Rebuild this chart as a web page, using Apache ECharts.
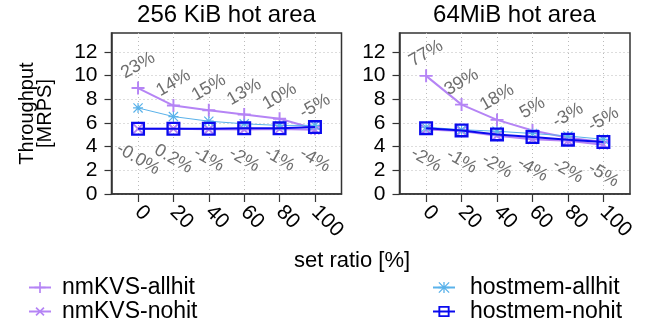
<!DOCTYPE html>
<html>
<head>
<meta charset="utf-8">
<script src="https://cdn.jsdelivr.net/npm/echarts@6/dist/echarts.min.js"></script>
<style>html,body{margin:0;padding:0;background:#fff}#c{width:646px;height:325px}</style>
</head>
<body>
<div id="c"></div>
<script>
// ---- data ----
const setRatio = [0, 20, 40, 60, 80, 100];
const xTicks = [0, 20, 40, 60, 80, 100];
const yTicks = [0, 2, 4, 6, 8, 10, 12];
const panelTitles = ['256 KiB hot area', '64MiB hot area'];
const seriesNames = ['nmKVS-allhit', 'nmKVS-nohit', 'hostmem-allhit', 'hostmem-nohit'];

// 256 KiB hot area
const nmAllL = [8.95, 7.47, 7.07, 6.71, 6.35, 5.51];
const nmNoL  = [5.51, 5.52, 5.46, 5.44, 5.49, 5.42];
const hmAllL = [7.27, 6.54, 6.15, 5.93, 5.79, 5.80];
const hmNoL  = [5.51, 5.51, 5.51, 5.55, 5.55, 5.65];
const upLabL = ['23%', '14%', '15%', '13%', '10%', '-5%'];
const loLabL = ['-0.0%', '0.2%', '-1%', '-2%', '-1%', '-4%'];

// 64MiB hot area
const nmAllR = [9.98, 7.55, 6.26, 5.37, 4.75, 4.39];
const nmNoR  = [5.45, 5.32, 4.93, 4.62, 4.50, 4.17];
const hmAllR = [5.64, 5.43, 5.30, 5.11, 4.90, 4.62];
const hmNoR  = [5.56, 5.37, 5.03, 4.81, 4.59, 4.39];
const upLabR = ['77%', '39%', '18%', '5%', '-3%', '-5%'];
const loLabR = ['-2%', '-1%', '-2%', '-4%', '-2%', '-5%'];

// ---- style ----
const FONT = 'Liberation Sans';
const cNm = '#b584f5';
const cHa = '#5ab2ea';
const cHn = '#0a0aee';
const PLUS = 'path://M0,5.1h12v1.8h-12zM5.1,0h1.8v12h-1.8z';
const ASTER = 'path://M0,5.3h12v1.4h-12zM5.3,0h1.4v12h-1.4zM1,0L12,11L11,12L0,1zM11,0L12,1L1,12L0,11z';
const SQUARE = 'path://M0,0h12v12h-12zM2,2v8h8v-8z';

const grids = [
  {left: 111.5, top: 33, width: 230, height: 161},
  {left: 399.5, top: 33, width: 230.5, height: 161}
];

function xAxis(i) {
  return {
    type: 'value', gridIndex: i, min: -15, max: 115,
    axisLine: {show: true, onZero: false, lineStyle: {color: '#333', width: 1.5}},
    axisTick: {show: true, inside: false, length: 8, customValues: xTicks, lineStyle: {color: '#333', width: 1.2}},
    axisLabel: {customValues: xTicks, rotate: -45, margin: 15, padding: [14, 0, 0, 0], fontFamily: FONT, fontSize: 21, color: '#000'},
    splitLine: {show: true, lineStyle: {type: [1, 3], color: '#bbb', width: 1}}
  };
}
function yAxis(i) {
  const a = {
    type: 'value', gridIndex: i, min: 0, max: 13.6,
    axisLine: {show: true, onZero: false, lineStyle: {color: '#333', width: 1.5}},
    axisTick: {show: true, inside: false, length: 7, customValues: yTicks, lineStyle: {color: '#333', width: 1.2}},
    axisLabel: {customValues: yTicks, margin: 14, fontFamily: FONT, fontSize: 21, color: '#000'},
    splitLine: {show: true, lineStyle: {type: [1, 3], color: '#bbb', width: 1}}
  };
  if (i === 0) {
    a.name = 'Throughput\n[MRPS]';
    a.nameLocation = 'middle';
    a.nameRotate = 90;
    a.nameGap = 57;
    a.nameTextStyle = {fontFamily: FONT, fontSize: 20, lineHeight: 18, color: '#000'};
  }
  return a;
}

function pts(arr) { return setRatio.map((x, k) => [x, arr[k]]); }

const labelStyle = {fontFamily: FONT, fontSize: 18, color: '#6e6e6e'};

function panelSeries(i, nmAll, nmNo, hmAll, hmNo, upLab, loLab) {
  return [
    {
      name: seriesNames[0], type: 'line', xAxisIndex: i, yAxisIndex: i, data: pts(nmAll),
      symbol: PLUS, symbolSize: 13,
      lineStyle: {color: cNm, width: 2}, itemStyle: {color: cNm},
      label: Object.assign({show: true, position: 'top', distance: 16, rotate: 30, align: 'center', verticalAlign: 'middle',
        formatter: p => upLab[p.dataIndex]}, labelStyle),
      z: 2
    },
    {
      name: seriesNames[1], type: 'line', xAxisIndex: i, yAxisIndex: i, data: pts(nmNo),
      symbol: PLUS, symbolRotate: 45, symbolSize: 13,
      lineStyle: {color: cNm, width: 2}, itemStyle: {color: cNm},
      label: Object.assign({show: true, position: 'bottom', distance: 21, rotate: -30, align: 'center', verticalAlign: 'middle',
        formatter: p => loLab[p.dataIndex]}, labelStyle),
      z: 3
    },
    {
      name: seriesNames[2], type: 'line', xAxisIndex: i, yAxisIndex: i, data: pts(hmAll),
      symbol: ASTER, symbolSize: 10,
      lineStyle: {color: cHa, width: 1}, itemStyle: {color: cHa},
      z: 4
    },
    {
      name: seriesNames[3], type: 'line', xAxisIndex: i, yAxisIndex: i, data: pts(hmNo),
      symbol: SQUARE, symbolSize: 14,
      lineStyle: {color: cHn, width: 2}, itemStyle: {color: cHn},
      z: 5
    }
  ];
}

const chart = echarts.init(document.getElementById('c'), null, {renderer: 'canvas'});
chart.setOption({
  animation: false,
  backgroundColor: '#fff',
  grid: grids.map(g => Object.assign({show: true, borderColor: '#333', borderWidth: 1.5, containLabel: false}, g)),
  xAxis: [xAxis(0), xAxis(1)],
  yAxis: [yAxis(0), yAxis(1)],
  legend: [
    {data: [seriesNames[0], seriesNames[1]], orient: 'vertical', left: 28, top: 276, height: 80, padding: 0, itemWidth: 22, itemHeight: 14, itemGap: 1,
     textStyle: {fontFamily: FONT, fontSize: 23, lineHeight: 20, color: '#000', padding: [0, 0, 0, 6]}},
    {data: [seriesNames[2], seriesNames[3]], orient: 'vertical', left: 432, top: 276, height: 80, padding: 0, itemWidth: 22, itemHeight: 14, itemGap: 1,
     textStyle: {fontFamily: FONT, fontSize: 23, lineHeight: 20, color: '#000', padding: [0, 0, 0, 10]}}
  ],
  graphic: [
    {type: 'text', x: 226.5, y: 15.5, style: {text: panelTitles[0], textAlign: 'center', textVerticalAlign: 'middle', font: '24px "Liberation Sans"', fill: '#000'}},
    {type: 'text', x: 514.5, y: 15.5, style: {text: panelTitles[1], textAlign: 'center', textVerticalAlign: 'middle', font: '24px "Liberation Sans"', fill: '#000'}},
    {type: 'text', x: 352, y: 261, style: {text: 'set ratio [%]', textAlign: 'center', textVerticalAlign: 'middle', font: '22px "Liberation Sans"', fill: '#000'}}
  ],
  series: [].concat(
    panelSeries(0, nmAllL, nmNoL, hmAllL, hmNoL, upLabL, loLabL),
    panelSeries(1, nmAllR, nmNoR, hmAllR, hmNoR, upLabR, loLabR)
  )
});
</script>
</body>
</html>
